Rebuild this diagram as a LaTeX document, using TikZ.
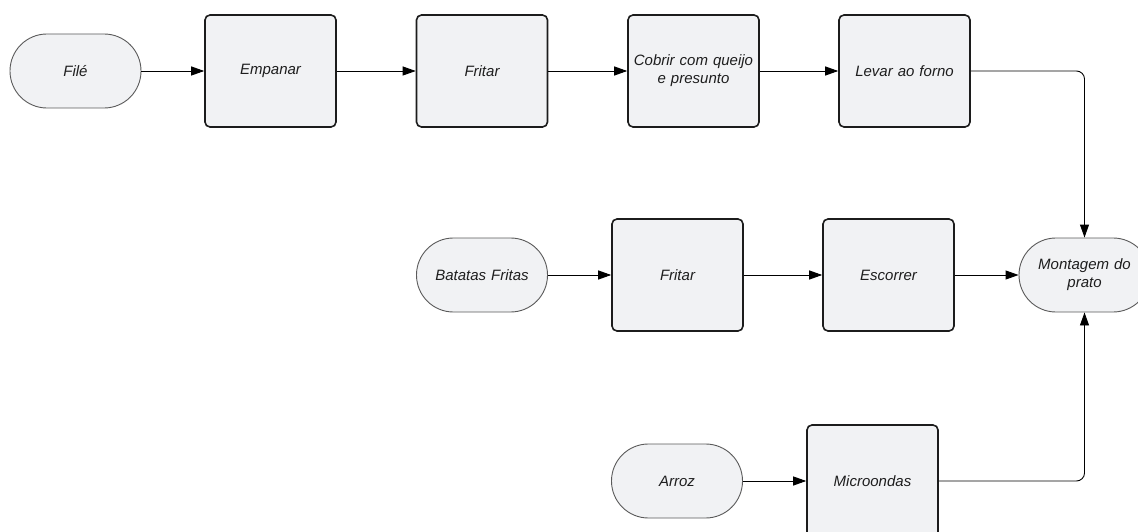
\documentclass[tikz,border=0pt]{standalone}
\usepackage{fontspec}
\setmainfont{Liberation Sans}
\usetikzlibrary{arrows.meta}
\definecolor{boxfill}{HTML}{F1F2F4}
\definecolor{boxline}{HTML}{1C1C1C}
\definecolor{pillline}{HTML}{5A5A5A}
\definecolor{txt}{HTML}{1E1E1E}
\begin{document}
\begin{tikzpicture}[x=1pt,y=-1pt,
  every node/.style={font=\fontsize{15}{18}\selectfont\itshape, text=txt, align=center, inner sep=0pt},
  stepbox/.style={draw=boxline, line width=1.6pt, fill=boxfill, rounded corners=5pt,
    minimum width=131pt, minimum height=112pt, text width=125pt},
  pill/.style={draw=pillline, line width=0.9pt, fill=boxfill, rounded corners=36.9pt,
    minimum width=131pt, minimum height=74pt, text width=110pt},
  flow/.style={draw=black, line width=0.9pt, -{Triangle[length=13pt,width=9pt]}},
]
\useasboundingbox (0,0) rectangle (1138,532);
\clip (0,0) rectangle (1138,532);

% top row: the fillet
\node[pill]    (file)    at (75.5,71)  {Filé};
\node[stepbox] (empanar) at (270.5,71) {Empanar};
\node[stepbox] (fritarA) at (482,71)   {Fritar};
\node[stepbox] (cobrir)  at (693.5,71) {Cobrir com queijo\\e presunto};
\node[stepbox] (levar)   at (904.5,71) {Levar ao forno};

% middle row: the fries
\node[pill]    (batatas) at (482,275)    {Batatas Fritas};
\node[stepbox] (fritarB) at (677.5,275)  {Fritar};
\node[stepbox] (escorrer) at (888.5,275) {Escorrer};
\node[pill, text width=100pt] (montagem) at (1084.5,275) {Montagem do\\prato};

% bottom row: the rice
\node[pill]    (arroz) at (677,481)   {Arroz};
\node[stepbox] (micro) at (872.5,481) {Microondas};

\draw[flow] (file) -- (empanar);
\draw[flow] (empanar) -- (fritarA);
\draw[flow] (fritarA) -- (cobrir);
\draw[flow] (cobrir) -- (levar);
\draw[flow, rounded corners=8pt] (levar.east) -| (montagem.north);

\draw[flow] (batatas) -- (fritarB);
\draw[flow] (fritarB) -- (escorrer);
\draw[flow] (escorrer) -- (montagem);

\draw[flow] (arroz) -- (micro);
\draw[flow, rounded corners=8pt] (micro.east) -| (montagem.south);
\end{tikzpicture}
\end{document}
